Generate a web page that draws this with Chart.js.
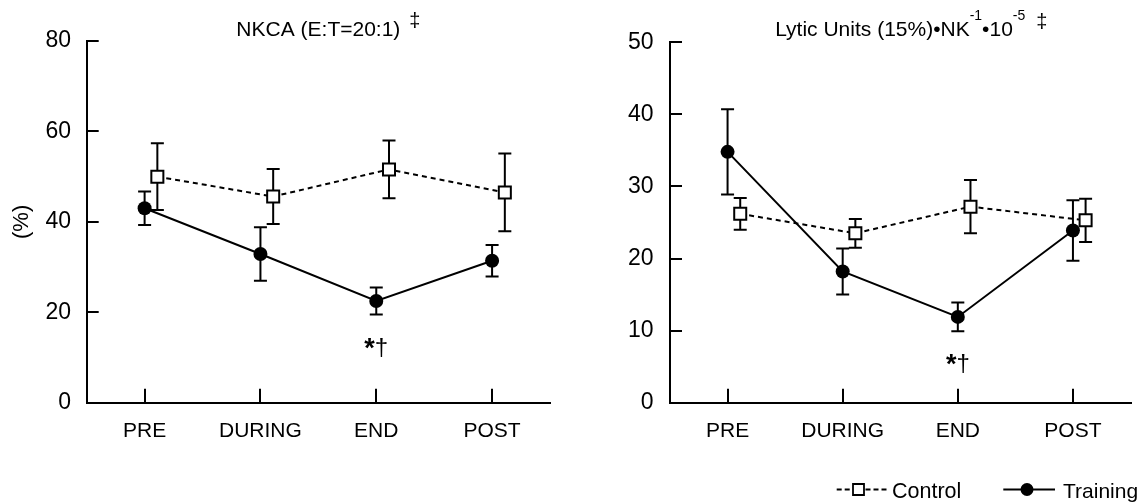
<!DOCTYPE html>
<html>
<head>
<meta charset="utf-8">
<script src="https://cdn.jsdelivr.net/npm/chart.js@4.4.1/dist/chart.umd.min.js"></script>
<style>
html,body{margin:0;padding:0;background:#fff;}
#wrap{position:relative;width:1141px;height:503px;overflow:hidden;background:#fff;}
.cw{position:absolute;top:0;height:503px;}
</style>
</head>
<body>
<div id="wrap">
  <div class="cw" style="left:0;width:570px;"><canvas id="cLeft"></canvas></div>
  <div class="cw" style="left:570px;width:571px;"><canvas id="cRight"></canvas></div>
</div>
<script>
// ---------------- data ----------------
const categories = ['PRE', 'DURING', 'END', 'POST'];

const nkcaControl     = [50.0, 45.6, 51.6, 46.5];
const nkcaControlErr  = [7.4, 6.1, 6.4, 8.6];
const nkcaTraining    = [43.0, 32.9, 22.5, 31.4];
const nkcaTrainingErr = [3.7, 5.9, 3.0, 3.5];
const nkcaTicks       = [0, 20, 40, 60, 80];

const luControl       = [26.2, 23.5, 27.2, 25.3];
const luControlErr    = [2.2, 2.0, 3.7, 3.0];
const luTraining      = [34.8, 18.2, 11.9, 23.9];
const luTrainingErr   = [5.9, 3.2, 2.0, 4.2];
const luTicks         = [0, 10, 20, 30, 40, 50];

const significantCategory = 'END';
const seriesNames = ['Control', 'Training'];

// ---------------- setup ----------------
const FONT = "'Liberation Sans', Arial, Helvetica, sans-serif";
Chart.defaults.font.family = FONT;
Chart.defaults.color = '#000';

const CONTROL_SHIFT = 0.11; // horizontal dodge of the control series (category units)

function buildDatasets(ctrl, ctrlErr, trn, trnErr) {
  return [
    {
      label: seriesNames[0],
      data: ctrl.map((v, i) => ({x: i + CONTROL_SHIFT, y: v})),
      errors: ctrlErr,
      borderColor: '#000', borderWidth: 2, borderDash: [5, 4],
      backgroundColor: '#fff',
      pointStyle: 'rect', pointRadius: 8.5, pointBorderWidth: 2,
      pointBackgroundColor: '#fff', pointBorderColor: '#000',
      tension: 0, clip: false
    },
    {
      label: seriesNames[1],
      data: trn.map((v, i) => ({x: i, y: v})),
      errors: trnErr,
      borderColor: '#000', borderWidth: 2,
      backgroundColor: '#000',
      pointStyle: 'circle', pointRadius: 7, pointBorderWidth: 0,
      pointBackgroundColor: '#000', pointBorderColor: '#000',
      tension: 0, clip: false
    }
  ];
}

function buildScales(yMax, yTicks, yWidth, yPad, yTitle) {
  return {
    x: {
      type: 'linear', min: -0.5, max: 3.5,
      afterBuildTicks: s => { s.ticks = categories.map((c, i) => ({value: i})); },
      ticks: {
        callback: v => categories[v] !== undefined ? categories[v] : '',
        font: {size: 21}, padding: 29.7, maxRotation: 0, autoSkip: false, color: '#000'
      },
      grid: {display: true, drawOnChartArea: false, drawTicks: true, tickLength: -14, color: '#000', lineWidth: 2},
      border: {display: true, color: '#000', width: 2},
      afterFit: s => { s.height = 100.3; s.paddingLeft = 0; s.paddingRight = 0; }
    },
    y: {
      type: 'linear', min: 0, max: yMax,
      afterBuildTicks: s => { s.ticks = yTicks.map(v => ({value: v})); },
      ticks: {font: {size: 23}, padding: yPad, color: '#000'},
      grid: {display: true, drawOnChartArea: false, drawTicks: true, tickLength: -12, color: '#000', lineWidth: 2},
      border: {display: true, color: '#000', width: 2},
      title: yTitle ? {display: true, text: yTitle, font: {size: 22}, padding: {top: 8.8, bottom: 0}, color: '#000'} : {display: false},
      afterFit: s => { s.width = yWidth; s.paddingTop = 0; s.paddingBottom = 0; }
    }
  };
}

// error bars drawn beneath the markers
const errorBarPlugin = {
  id: 'errorBars',
  beforeDatasetsDraw(chart) {
    const {ctx, scales: {x, y}} = chart;
    ctx.save();
    ctx.strokeStyle = '#000';
    ctx.lineWidth = 2;
    ctx.setLineDash([]);
    chart.data.datasets.forEach(ds => {
      ds.data.forEach((p, i) => {
        const e = ds.errors[i];
        const px = x.getPixelForValue(p.x);
        const yt = y.getPixelForValue(p.y + e);
        const yb = y.getPixelForValue(p.y - e);
        const cap = 6.5;
        ctx.beginPath();
        ctx.moveTo(px, yt); ctx.lineTo(px, yb);
        ctx.moveTo(px - cap, yt); ctx.lineTo(px + cap, yt);
        ctx.moveTo(px - cap, yb); ctx.lineTo(px + cap, yb);
        ctx.stroke();
      });
    });
    ctx.restore();
  }
};

// title with superscripts and a trailing mark
const richTitlePlugin = {
  id: 'richTitle',
  afterDraw(chart, args, o) {
    if (!o || !o.segments) return;
    const {ctx, chartArea} = chart;
    ctx.save();
    ctx.fillStyle = '#000';
    ctx.textAlign = 'left';
    ctx.textBaseline = 'alphabetic';
    let total = 0;
    const widths = o.segments.map(s => {
      ctx.font = (s.sup ? o.supSize : o.size) + 'px ' + FONT;
      const w = ctx.measureText(s.text).width;
      total += w;
      return w;
    });
    let x = (chartArea.left + chartArea.right) / 2 - total / 2;
    o.segments.forEach((s, i) => {
      ctx.font = (s.sup ? o.supSize : o.size) + 'px ' + FONT;
      ctx.fillText(s.text, x, s.sup ? o.supBaseline : o.baseline);
      x += widths[i];
    });
    if (o.mark) {
      ctx.font = o.markSize + 'px ' + FONT;
      ctx.fillText(o.mark, x + o.markGap, o.markBaseline);
    }
    ctx.restore();
  }
};

// significance mark under the training point of a category
const sigPlugin = {
  id: 'sigMark',
  afterDatasetsDraw(chart, args, o) {
    if (!o || !o.category) return;
    const {ctx, scales: {x, y}} = chart;
    const i = categories.indexOf(o.category);
    const ds = chart.data.datasets[1];
    const px = x.getPixelForValue(ds.data[i].x);
    const yb = y.getPixelForValue(ds.data[i].y - ds.errors[i]) + o.offset;
    ctx.save();
    ctx.fillStyle = '#000';
    ctx.textBaseline = 'alphabetic';
    ctx.textAlign = 'left';
    ctx.font = 'bold 27px ' + FONT;
    const w1 = ctx.measureText('*').width;
    ctx.font = '24px ' + FONT;
    const w2 = ctx.measureText('\u2020').width;
    let sx = px - (w1 + w2) / 2;
    ctx.font = 'bold 27px ' + FONT;
    ctx.fillText('*', sx, yb + 2);
    ctx.font = '24px ' + FONT;
    ctx.fillText('\u2020', sx + w1, yb);
    ctx.restore();
  }
};

// legend drawn with the series styles
const legendPlugin = {
  id: 'lineLegend',
  afterDraw(chart, args, o) {
    if (!o || !o.show) return;
    const {ctx} = chart;
    const cy = o.y;
    ctx.save();
    ctx.strokeStyle = '#000';
    ctx.fillStyle = '#000';
    // Control: dashed line + open square
    ctx.lineWidth = 1.8;
    ctx.setLineDash([5, 3]);
    ctx.beginPath();
    ctx.moveTo(o.cx0, cy); ctx.lineTo(o.cSq - 7, cy);
    ctx.moveTo(o.cSq + 7, cy); ctx.lineTo(o.cx1, cy);
    ctx.stroke();
    ctx.setLineDash([]);
    ctx.fillStyle = '#fff';
    ctx.beginPath();
    ctx.rect(o.cSq - 5.5, cy - 5.5, 11, 11);
    ctx.fill(); ctx.stroke();
    ctx.fillStyle = '#000';
    ctx.font = '21.5px ' + FONT;
    ctx.textBaseline = 'alphabetic';
    ctx.textAlign = 'left';
    ctx.fillText(seriesNames[0], o.cText, o.textBase);
    // Training: solid line + filled circle
    ctx.lineWidth = 2;
    ctx.beginPath();
    ctx.moveTo(o.tx0, cy); ctx.lineTo(o.tx1, cy);
    ctx.stroke();
    ctx.beginPath();
    ctx.arc(o.tDot, cy, 6.5, 0, Math.PI * 2);
    ctx.fill();
    ctx.font = '21px ' + FONT;
    ctx.fillText(seriesNames[1], o.tText, o.textBase);
    ctx.restore();
  }
};

function makeChart(id, ctrl, ctrlErr, trn, trnErr, yMax, yTicks, yWidth, yPad, yTitle, padding, titleOpts, legendOpts) {
  return new Chart(document.getElementById(id), {
    type: 'line',
    data: {datasets: buildDatasets(ctrl, ctrlErr, trn, trnErr)},
    options: {
      responsive: true,
      maintainAspectRatio: false,
      devicePixelRatio: 1,
      animation: false,
      events: [],
      layout: {padding: padding},
      scales: buildScales(yMax, yTicks, yWidth, yPad, yTitle),
      plugins: {
        legend: {display: false},
        title: {display: false},
        tooltip: {enabled: false},
        richTitle: titleOpts,
        sigMark: {category: significantCategory, offset: 40},
        lineLegend: legendOpts
      }
    },
    plugins: [errorBarPlugin, richTitlePlugin, sigPlugin, legendPlugin]
  });
}

makeChart('cLeft', nkcaControl, nkcaControlErr, nkcaTraining, nkcaTrainingErr,
  80, nkcaTicks, 86.7, 27.7, '(%)',
  {left: 0, top: 41, right: 20, bottom: 0},
  {segments: [{text: 'NKCA (E:T=20:1)'}], size: 21, supSize: 14, baseline: 36, supBaseline: 19.5,
   mark: '\u2021', markSize: 20, markGap: 9, markBaseline: 27},
  {show: false});

makeChart('cRight', luControl, luControlErr, luTraining, luTrainingErr,
  50, luTicks, 100, 28.5, null,
  {left: 0, top: 42.3, right: 10.3, bottom: 0},
  {segments: [{text: 'Lytic Units (15%)\u2022NK'}, {text: '-1', sup: true}, {text: '\u202210'}, {text: '-5', sup: true}],
   size: 21, supSize: 14, baseline: 36, supBaseline: 20,
   mark: '\u2021', markSize: 20, markGap: 11, markBaseline: 28},
  {show: true, y: 489.5, textBase: 497.5,
   cx0: 266.7, cSq: 288.5, cx1: 316.7, cText: 322,
   tx0: 433.3, tDot: 457, tx1: 485, tText: 493});
</script>
</body>
</html>
